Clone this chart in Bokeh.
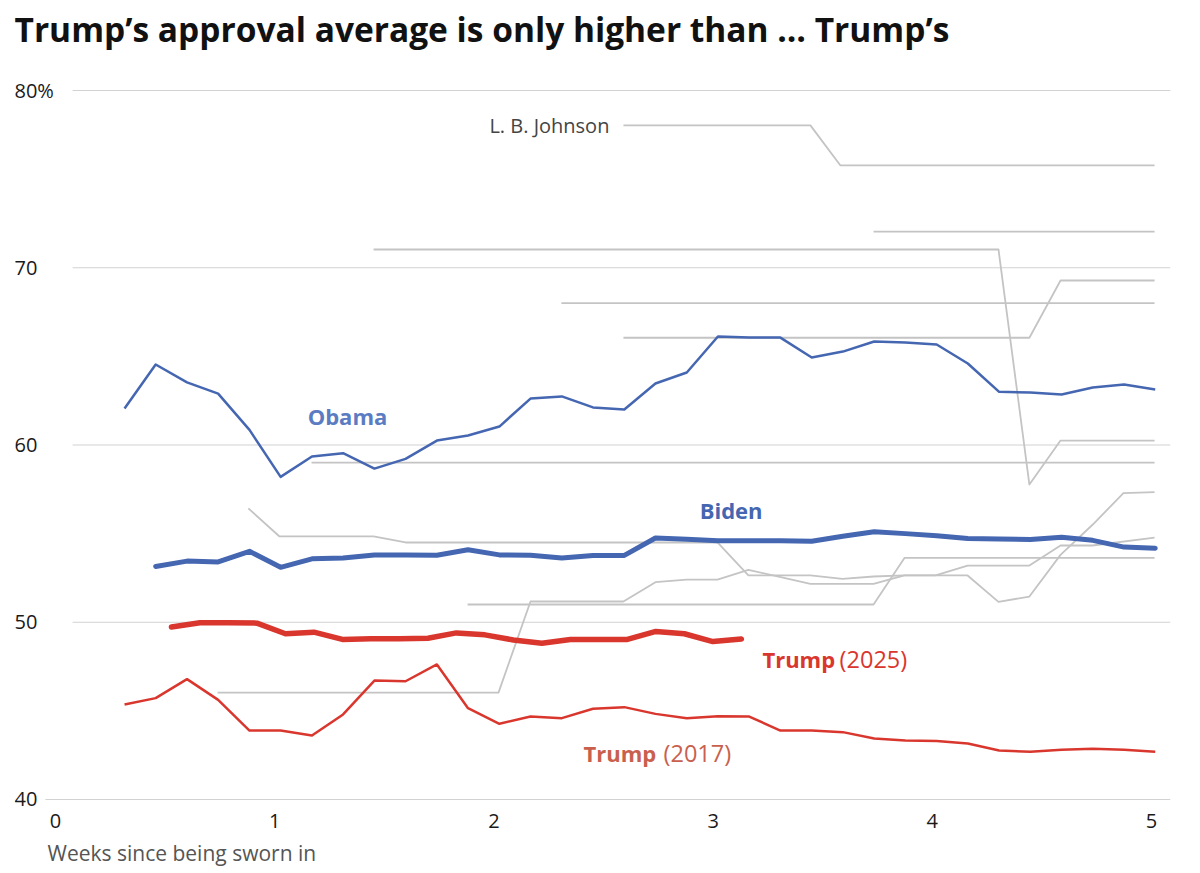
from bokeh.plotting import figure
from bokeh.models import Range1d
from bokeh.core.properties import value
from bokeh.embed import file_html
from bokeh.resources import INLINE

# ---------------- data ----------------
title_text = "Trump\u2019s approval average is only higher than \u2026 Trump\u2019s"
x_axis_title = "Weeks since being sworn in"

x_ticks = [0, 1, 2, 3, 4, 5]
x_tick_labels = ["0", "1", "2", "3", "4", "5"]
y_ticks = [40, 50, 60, 70, 80]
y_tick_labels = ["40", "50", "60", "70", "80%"]

# daily positions (weeks since inauguration) shared by Obama / Trump 2017
days_x = [0.315, 0.457, 0.600, 0.742, 0.885, 1.027, 1.170, 1.312, 1.455, 1.597,
          1.740, 1.882, 2.025, 2.167, 2.310, 2.452, 2.595, 2.737, 2.880, 3.022,
          3.165, 3.307, 3.450, 3.592, 3.735, 3.877, 4.020, 4.162, 4.305, 4.447,
          4.590, 4.732, 4.875, 5.017]

obama = [62.06, 64.54, 63.53, 62.90, 60.85, 58.20, 59.35, 59.54, 58.67, 59.22,
         60.25, 60.54, 61.04, 62.62, 62.74, 62.12, 62.00, 63.47, 64.09, 66.12,
         66.06, 66.06, 64.94, 65.27, 65.84, 65.78, 65.67, 64.60, 63.00, 62.96,
         62.85, 63.24, 63.41, 63.13]

trump2017 = [45.36, 45.72, 46.79, 45.62, 43.89, 43.89, 43.61, 44.80, 46.71, 46.67,
             47.62, 45.15, 44.27, 44.68, 44.59, 45.12, 45.21, 44.83, 44.59, 44.70,
             44.68, 43.89, 43.89, 43.80, 43.44, 43.33, 43.30, 43.16, 42.76, 42.70,
             42.80, 42.87, 42.80, 42.70]

biden_x = days_x[1:]
biden = [53.15, 53.45, 53.40, 54.00, 53.10, 53.58, 53.62, 53.80, 53.80, 53.78,
         54.09, 53.80, 53.78, 53.62, 53.77, 53.77, 54.75, 54.68, 54.60, 54.60,
         54.60, 54.57, 54.85, 55.10, 55.00, 54.88, 54.72, 54.70, 54.67, 54.80,
         54.62, 54.24, 54.18]

trump2025_x = [0.529, 0.659, 0.789, 0.919, 1.049, 1.179, 1.309, 1.439, 1.569, 1.699,
               1.829, 1.959, 2.089, 2.219, 2.349, 2.479, 2.609, 2.739, 2.869, 2.999,
               3.129]
trump2025 = [49.73, 49.97, 49.97, 49.95, 49.35, 49.44, 49.03, 49.07, 49.07, 49.10,
             49.40, 49.29, 49.00, 48.82, 49.03, 49.03, 49.03, 49.48, 49.35, 48.91,
             49.05]

# other presidents (grey)
johnson_x = [2.591, 3.444, 3.581, 5.014]
johnson = [78.03, 78.03, 75.77, 75.77]
other_a_x = [3.732, 5.014]
other_a = [72.04, 72.04]
other_b_x = [1.451, 4.302, 4.443, 4.585, 5.014]
other_b = [71.03, 71.03, 57.77, 60.25, 60.25]
other_c_x = [2.591, 4.443, 4.585, 5.014]
other_c = [66.05, 66.05, 69.28, 69.28]
other_d_x = [2.308, 5.014]
other_d = [68.0, 68.0]
other_e_x = [1.168, 5.014]
other_e = [59.0, 59.0]
other_f_x = [0.880, 1.022, 1.451, 1.597, 3.020, 3.161, 3.444, 3.590, 3.732, 3.873,
             4.015, 4.161, 4.302, 4.443, 4.585, 4.731, 4.872, 5.014]
other_f = [56.42, 54.84, 54.84, 54.50, 54.50, 52.64, 52.64, 52.45, 52.58, 52.64,
           52.64, 52.64, 51.15, 51.45, 53.80, 55.50, 57.28, 57.34]
other_g_x = [0.739, 2.021, 2.167, 2.591, 2.737, 2.879, 3.020, 3.161, 3.444, 3.732,
             3.873, 4.015, 4.161, 4.443, 4.585, 4.731, 5.014]
other_g = [46.03, 46.03, 51.17, 51.17, 52.26, 52.41, 52.41, 52.96, 52.17, 52.17,
           52.64, 52.64, 53.20, 53.20, 54.33, 54.33, 54.78]
other_h_x = [1.880, 3.732, 3.873, 5.014]
other_h = [51.0, 51.0, 53.63, 53.63]

# ---------------- styling / layout ----------------
BLUE = "#4566b1"
RED = "#d9372e"
GREY = "#c4c4c4"
GRID = "#d2d2d2"
FONT = "Open Sans"

X0, X1 = -0.187, 5.0867
Y0, Y1 = 35.825, 84.626

p = figure(width=1184, height=873, x_range=Range1d(X0, X1), y_range=Range1d(Y0, Y1),
           output_backend="svg", toolbar_location=None,
           x_axis_location=None, y_axis_location=None,
           min_border_left=14, min_border_right=14, min_border_top=8, min_border_bottom=0)
for g in p.grid:
    g.visible = False
p.outline_line_color = None
p.background_fill_color = "white"
p.border_fill_color = "white"

# gridlines
grid_start = [-0.046 if t == 40 else 0.078 for t in y_ticks]
p.segment(x0=grid_start, y0=y_ticks, x1=[X1] * len(y_ticks), y1=y_ticks,
          line_color=GRID, line_width=1.2)

# y tick labels
p.text(x=[X0] * len(y_ticks), y=y_ticks, text=y_tick_labels,
       text_font=value(FONT), text_font_size="20px", text_color="#1a1a1a",
       text_align="left", text_baseline="middle")

# x tick labels
p.text(x=x_ticks, y=[38.8] * len(x_ticks), text=x_tick_labels,
       text_font=value(FONT), text_font_size="20px", text_color="#1a1a1a",
       text_align="center", text_baseline="middle")

# axis title
p.text(x=[-0.0365], y=[37.0], text=[x_axis_title],
       text_font=value(FONT), text_font_size="21px", text_color="#555555",
       text_align="left", text_baseline="middle")

# chart title
p.text(x=[X0], y=[83.45], text=[title_text],
       text_font=value(FONT), text_font_size="33.5px", text_font_style="bold",
       text_color="#111111", text_align="left", text_baseline="middle")

# grey lines
for xs, ys in [(johnson_x, johnson), (other_a_x, other_a), (other_b_x, other_b),
               (other_c_x, other_c), (other_d_x, other_d), (other_e_x, other_e),
               (other_f_x, other_f), (other_g_x, other_g), (other_h_x, other_h)]:
    p.line(xs, ys, line_color=GREY, line_width=1.8, line_join="round")

# highlighted presidents
p.line(days_x, obama, line_color=BLUE, line_width=2.5, line_join="round")
p.line(days_x, trump2017, line_color=RED, line_width=2.5, line_join="round")
p.line(biden_x, biden, line_color=BLUE, line_width=5, line_join="round", line_cap="round")
p.line(trump2025_x, trump2025, line_color=RED, line_width=5.5, line_join="round", line_cap="round")

# labels
p.text(x=[2.527], y=[78.03], text=["L. B. Johnson"], text_font=value(FONT),
       text_font_size="20px", text_color="#444444", text_align="right", text_baseline="middle")
p.text(x=[1.332], y=[61.66], text=["Obama"], text_font=value(FONT), text_font_size="22px",
       text_font_style="bold", text_color="#5b7cc2", text_align="center", text_baseline="middle")
p.text(x=[3.082], y=[56.36], text=["Biden"], text_font=value(FONT), text_font_size="22px",
       text_font_style="bold", text_color=BLUE, text_align="center", text_baseline="middle")
p.text(x=[3.225], y=[47.95], text=["Trump"], text_font=value(FONT), text_font_size="22px",
       text_font_style="bold", text_color=RED, text_align="left", text_baseline="middle")
p.text(x=[3.577], y=[47.95], text=["(2025)"], text_font=value(FONT), text_font_size="23.5px",
       text_color=RED, text_align="left", text_baseline="middle")
p.text(x=[2.409], y=[42.6], text=["Trump"], text_font=value(FONT), text_font_size="22px",
       text_font_style="bold", text_color="#c9604d", text_align="left", text_baseline="middle")
p.text(x=[2.774], y=[42.6], text=["(2017)"], text_font=value(FONT), text_font_size="23.5px",
       text_color="#c9604d", text_align="left", text_baseline="middle")

open("out.html", "w").write(file_html(p, INLINE))
